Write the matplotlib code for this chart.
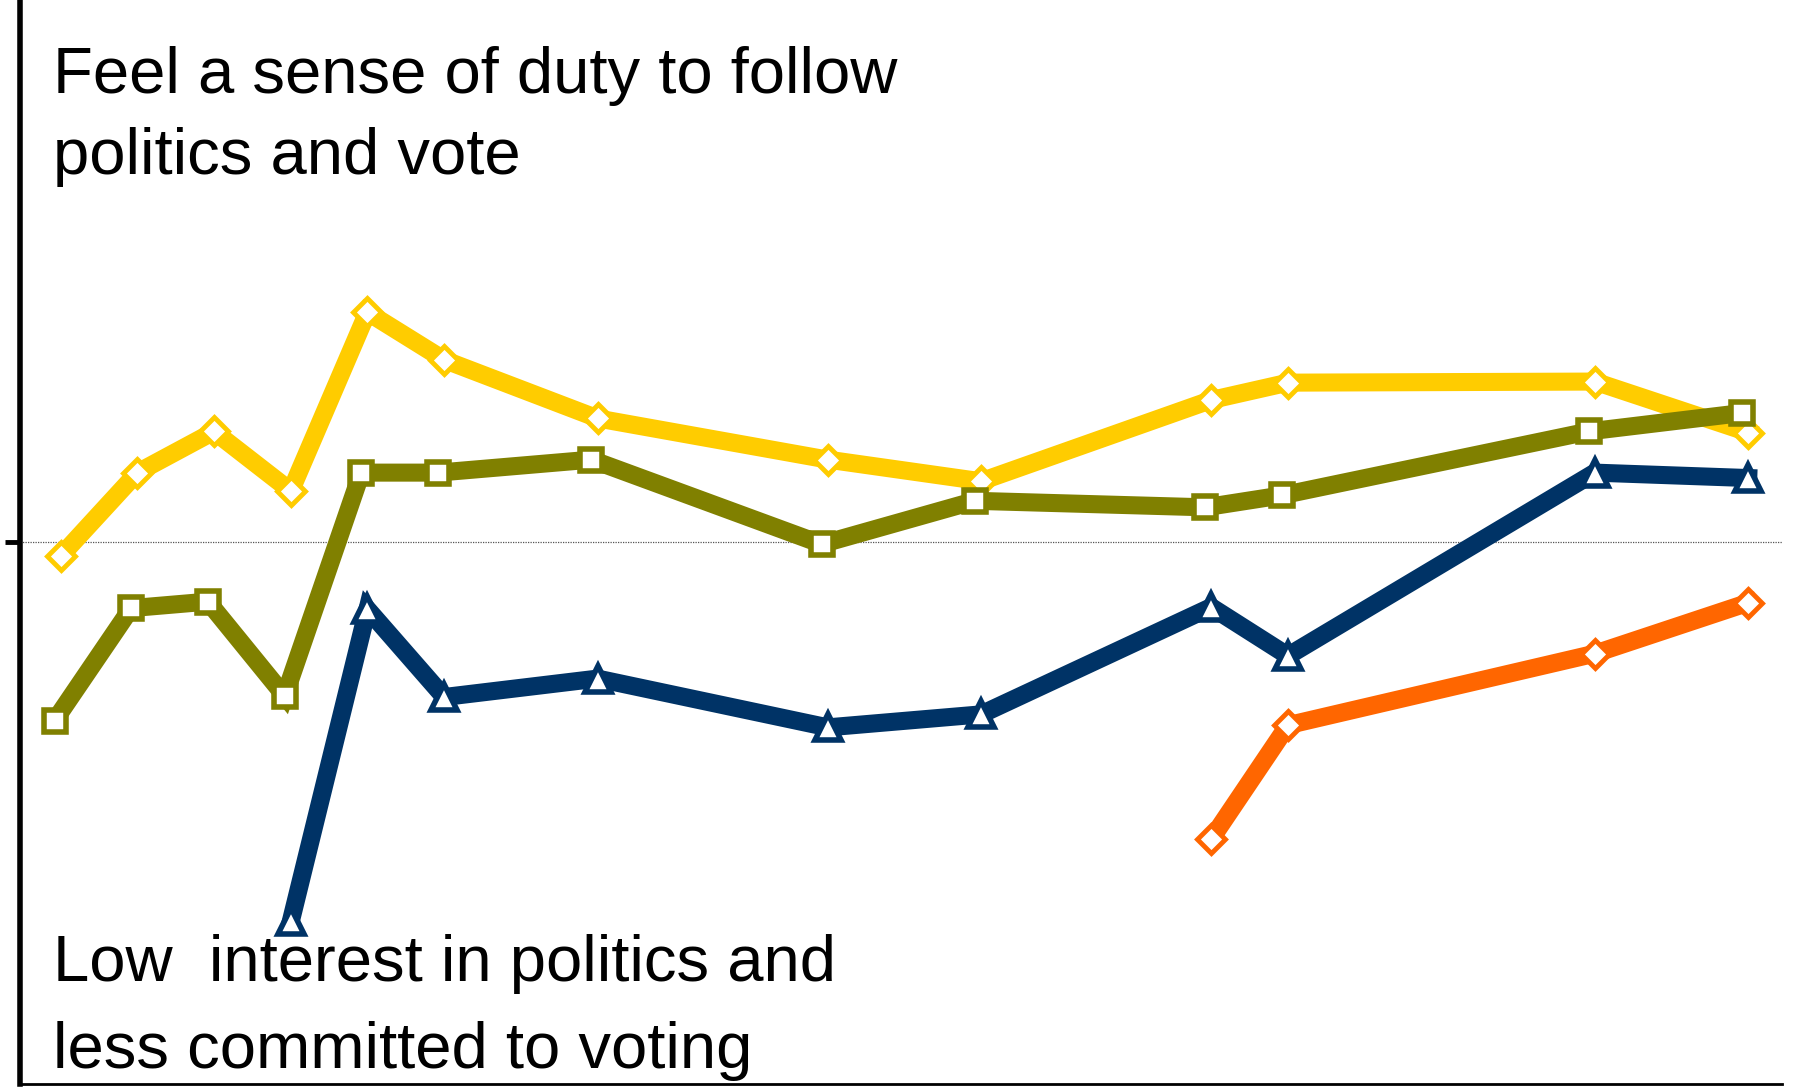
import matplotlib.pyplot as plt

# survey positions (olive series sits slightly left of the others)
x_olive = [0, 1, 2, 3, 4, 5, 7, 10, 12, 15, 16, 20, 22]
x_main = [0.08, 1.08, 2.08, 3.08, 4.08, 5.08, 7.08, 10.08, 12.08, 15.08, 16.08, 20.08, 22.08]
x_navy = [3.08, 4.08, 5.08, 7.08, 10.08, 12.08, 15.08, 16.08, 20.08, 22.08]
x_orange = [15.08, 16.08, 20.08, 22.08]

yellow_vals = [48.7, 56.4, 60.2, 54.7, 71.2, 66.8, 61.4, 57.6, 55.6, 63.1, 64.7, 64.8, 60.1]
olive_vals = [33.5, 43.9, 44.5, 35.8, 56.4, 56.4, 57.6, 49.8, 53.8, 53.2, 54.3, 60.2, 61.9]
navy_vals = [15.0, 43.8, 35.7, 37.4, 32.9, 34.1, 44.0, 39.5, 56.4, 55.9]
orange_vals = [22.6, 33.1, 39.7, 44.4]

top_label = "Feel a sense of duty to follow\npolitics and vote"
bottom_label = "Low  interest in politics and\nless committed to voting"

plt.rcParams['font.family'] = ['Liberation Sans', 'DejaVu Sans']

fig = plt.figure(figsize=(17.95, 10.87), dpi=100)
ax = fig.add_axes([20 / 1795, 3 / 1087, 1762 / 1795, 1084 / 1087])

ax.axhline(50, color='#555555', lw=0.9, ls=(0, (1, 1)), zorder=1)

ax.plot(x_main, yellow_vals, color='#FFCC00', lw=13, marker='D', ms=14,
        mfc='white', mec='#FFCC00', mew=3.5, solid_joinstyle='miter', zorder=3)
ax.plot(x_olive, olive_vals, color='#808000', lw=13, marker='s', ms=15.5,
        mfc='white', mec='#808000', mew=4, solid_joinstyle='miter', zorder=4)
ax.plot(x_navy, navy_vals, color='#003366', lw=13, marker='^', ms=19,
        mfc='white', mec='#003366', mew=4, solid_joinstyle='miter', zorder=5)
ax.plot(x_orange, orange_vals, color='#FF6600', lw=13, marker='D', ms=14,
        mfc='white', mec='#FF6600', mew=3.5, solid_joinstyle='miter', zorder=6)

ax.set_xlim(-0.45, 22.52)
ax.set_ylim(0, 100)

ax.set_xticks([])
ax.set_yticks([50])
ax.set_yticklabels([])
ax.tick_params(axis='y', length=11, width=3.5, direction='out')

for side in ['top', 'right']:
    ax.spines[side].set_visible(False)
ax.spines['left'].set_linewidth(4)
ax.spines['bottom'].set_linewidth(2)

ax.text(0.019, 0.958, top_label, transform=ax.transAxes, fontsize=47,
        va='top', ha='left', linespacing=1.45, color='black')
ax.text(0.019, 0.138, bottom_label, transform=ax.transAxes, fontsize=47,
        va='top', ha='left', linespacing=1.56, color='black', clip_on=True)

fig.savefig('out.png', dpi=100)
